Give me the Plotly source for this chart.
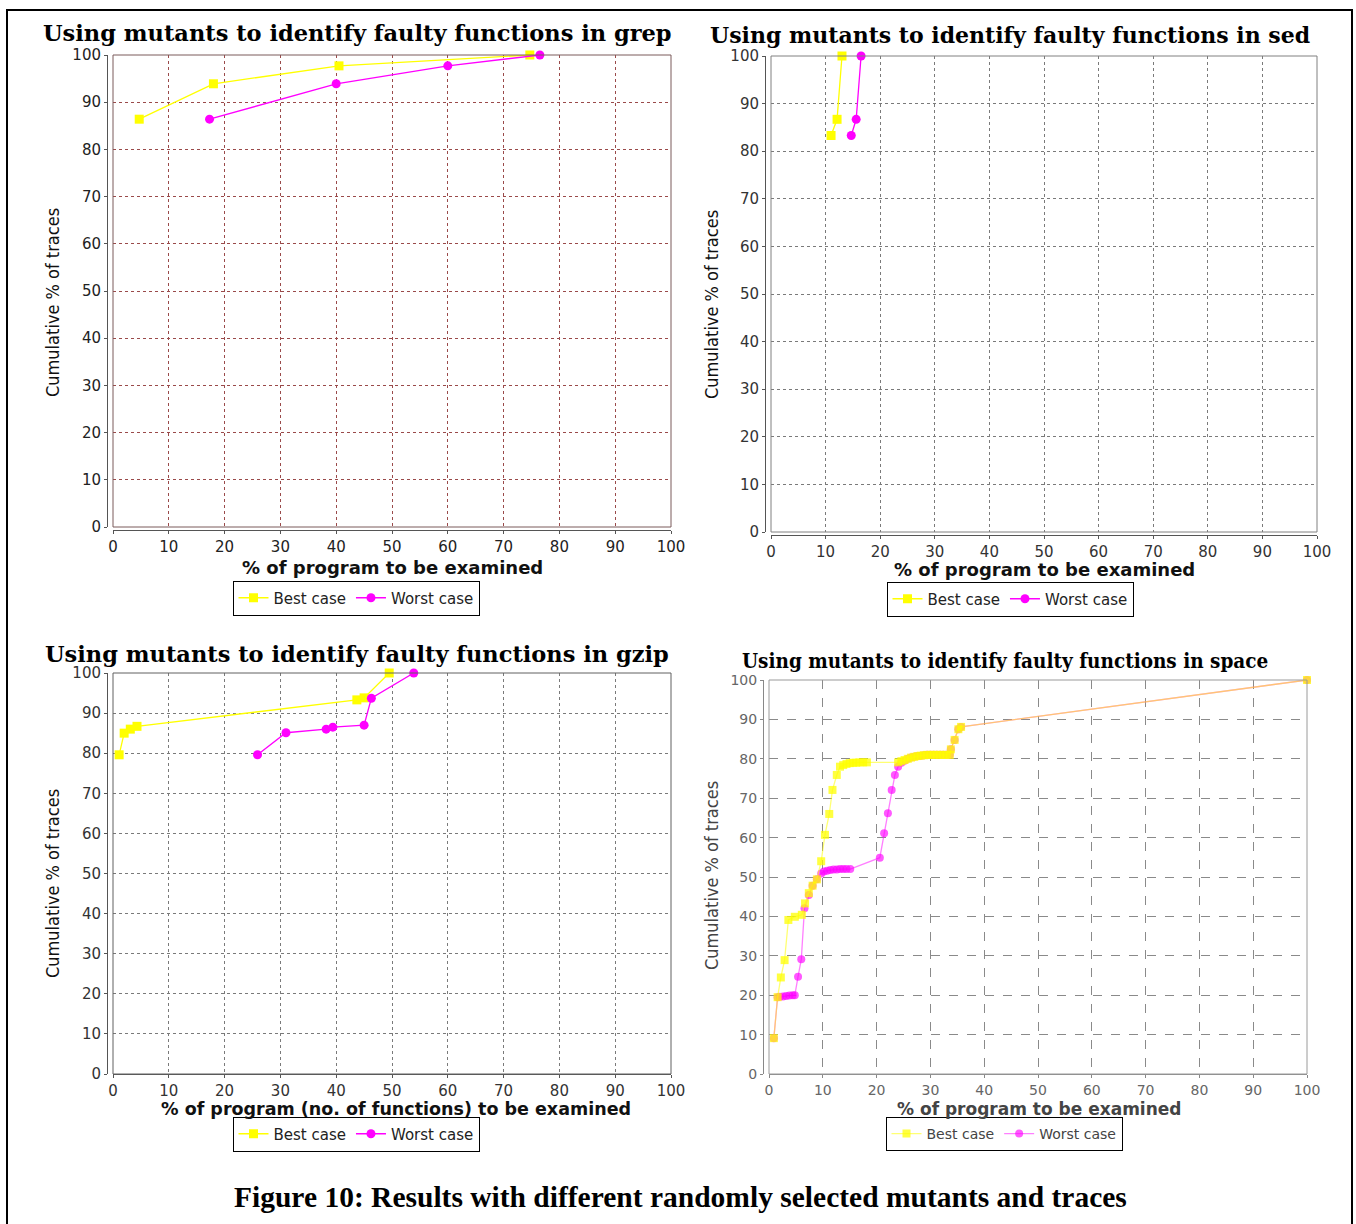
import plotly.graph_objects as go

W, H = 1356, 1224

# ---------------- data ----------------
grep_best_x = [4.7, 18.0, 40.5, 74.7]
grep_best_y = [86.4, 93.9, 97.7, 100]
grep_worst_x = [17.3, 40.0, 60.0, 76.5]
grep_worst_y = [86.4, 93.9, 97.7, 100]

sed_best_x = [11.0, 12.1, 13.0]
sed_best_y = [83.3, 86.7, 100]
sed_worst_x = [14.7, 15.6, 16.5]
sed_worst_y = [83.3, 86.7, 100]

gzip_best_x = [1.1, 2.0, 3.1, 4.3, 43.7, 45.0, 49.5]
gzip_best_y = [79.6, 85.0, 86.0, 86.7, 93.3, 93.8, 100]
gzip_worst_x = [25.9, 31.0, 38.2, 39.4, 45.0, 46.3, 53.9]
gzip_worst_y = [79.6, 85.1, 86.0, 86.5, 87.0, 93.7, 100]

space_best_x = [0.9, 1.6, 2.2, 2.9, 3.6, 4.8, 6.1, 6.7, 7.4, 8.1, 8.9, 9.7, 10.4, 11.2,
                11.8, 12.6, 13.2, 13.8, 14.4, 15.0, 15.6, 16.2, 16.8, 17.5, 18.2,
                24.0, 24.6, 25.2, 25.8, 26.4, 27.0, 27.6, 28.2, 28.8, 29.4, 30.0, 30.6,
                31.2, 31.8, 32.4, 33.0, 33.6, 33.8, 34.5, 35.2, 35.7, 100]
space_best_y = [9.1, 19.5, 24.5, 28.9, 39.1, 39.9, 40.4, 43.3, 45.9, 47.8, 49.4, 54.0, 60.7, 66.0,
                72.1, 75.9, 78.0, 78.4, 78.7, 78.9, 79.0, 79.0, 79.1, 79.1, 79.1,
                79.1, 79.4, 79.7, 80.0, 80.3, 80.5, 80.7, 80.8, 80.9, 81.0, 81.0, 81.0,
                81.0, 81.0, 81.0, 81.0, 81.0, 82.4, 84.8, 87.5, 88.1, 100]
space_worst_x = [0.9, 1.6, 2.0, 2.6, 3.2, 3.8, 4.4, 4.8, 5.4, 6.0, 6.6, 7.4, 8.1, 8.9, 9.7,
                 10.2, 10.8, 11.4, 12.0, 12.6, 13.2, 13.8, 14.4, 15.1,
                 20.6, 21.4, 22.1, 22.8, 23.4, 24.0, 24.6, 25.2, 25.8, 26.4, 27.0, 27.6,
                 28.2, 28.8, 29.4, 30.0, 30.6, 31.2, 31.8, 32.4, 33.0, 33.6, 33.8, 34.5,
                 35.2, 35.7, 100]
space_worst_y = [9.1, 19.5, 19.6, 19.7, 19.8, 19.9, 20.0, 20.0, 24.7, 29.1, 42.1, 45.4, 47.8, 49.4, 50.9,
                 51.4, 51.6, 51.8, 51.9, 51.9, 52.0, 52.0, 52.0, 52.0,
                 54.9, 61.1, 66.2, 72.1, 75.9, 78.0, 79.0, 79.5, 80.0, 80.3, 80.5, 80.7,
                 80.8, 80.9, 81.0, 81.0, 81.0, 81.0, 81.0, 81.0, 81.0, 81.0, 82.4, 84.8,
                 87.5, 88.1, 100]

tick_vals = [0, 10, 20, 30, 40, 50, 60, 70, 80, 90, 100]

titles = ["Using mutants to identify faulty functions in grep",
          "Using mutants to identify faulty functions in sed",
          "Using mutants to identify faulty functions in gzip",
          "Using mutants to identify faulty functions in space"]
xtitles = ["% of program to be examined", "% of program to be examined",
           "% of program (no. of functions) to be examined", "% of program to be examined"]
ytitle = "Cumulative % of traces"
caption = "Figure 10: Results with different randomly selected mutants and traces"
series_names = ["Best case", "Worst case"]

# ---------------- layout helpers (reference-pixel -> paper) ----------------
def px(x):
    return x / W

def py(y):
    return 1 - y / H

# plot-area pixel boxes: (left, right, top, bottom)
boxes = [(113, 671, 55, 527), (771, 1317, 56, 532), (113, 671, 673, 1074), (769, 1307, 680, 1074)]
xaxis_gap = [3, 3, 0, 0]
gridcols = ["#9a4a4a", "#7a7a7a", "#7a7a7a", "#8a8a8a"]
framecols = ["#7a5a5a", "#808080", "#606060", "#9a9a9a"]
axiscols = ["#555555", "#555555", "#555555", "#888888"]
tickcols = ["#222222", "#333333", "#333333", "#666666"]

fig = go.Figure()

layout = dict(width=W, height=H, margin=dict(l=0, r=0, t=0, b=0, pad=0, autoexpand=False),
              paper_bgcolor="white", plot_bgcolor="white", showlegend=True)

for i, (l, r, t, b) in enumerate(boxes):
    k = "" if i == 0 else str(i + 1)
    common = dict(range=[0, 100], tickvals=tick_vals, showgrid=True, gridcolor=gridcols[i],
                  griddash="dot" if i < 3 else "dash", gridwidth=1, showline=True,
                  linecolor=axiscols[i], linewidth=1, ticks="outside", ticklen=3,
                  tickcolor=axiscols[i], zeroline=False, fixedrange=True, automargin=False,
                  tickfont=dict(family="DejaVu Sans", size=15 if i < 3 else 14, color=tickcols[i]))
    layout["xaxis" + k] = dict(domain=[px(l), px(r)], anchor="free",
                               position=py(b + xaxis_gap[i]), **common)
    layout["yaxis" + k] = dict(domain=[py(b), py(t)], anchor="free", position=px(l - 6), **common)

fig.update_layout(**layout)

data = [(grep_best_x, grep_best_y, grep_worst_x, grep_worst_y),
        (sed_best_x, sed_best_y, sed_worst_x, sed_worst_y),
        (gzip_best_x, gzip_best_y, gzip_worst_x, gzip_worst_y),
        (space_best_x, space_best_y, space_worst_x, space_worst_y)]

for i, (bx, by, wx, wy) in enumerate(data):
    k = "" if i == 0 else str(i + 1)
    leg = "legend" + k
    if i < 3:
        ycol_l, mcol_l, ycol_m, mcol_m, msz = "#ffff00", "#ff00ff", "#ffff00", "#ff00ff", 9
    else:
        ycol_l, mcol_l = "rgba(255,255,0,0.55)", "rgba(255,0,255,0.5)"
        ycol_m, mcol_m, msz = "rgba(255,255,0,0.75)", "rgba(255,0,255,0.65)", 8
    worst = go.Scatter(x=wx, y=wy, mode="lines+markers", name=series_names[1],
                       line=dict(color=mcol_l, width=1.3),
                       marker=dict(symbol="circle", size=msz, color=mcol_m),
                       xaxis="x" + k, yaxis="y" + k, legend=leg, cliponaxis=False,
                       legendrank=2)
    best = go.Scatter(x=bx, y=by, mode="lines+markers", name=series_names[0],
                      line=dict(color=ycol_l, width=1.3),
                      marker=dict(symbol="square", size=msz, color=ycol_m),
                      xaxis="x" + k, yaxis="y" + k, legend=leg, cliponaxis=False,
                      legendrank=1)
    if i == 3:
        fig.add_trace(worst)
        fig.add_trace(best)
    else:
        fig.add_trace(best)
        fig.add_trace(worst)
    # plot frame
    fig.add_shape(type="rect", xref="x" + k + " domain", yref="y" + k + " domain",
                  x0=0, x1=1, y0=0, y1=1, line=dict(color=framecols[i], width=1),
                  fillcolor="rgba(0,0,0,0)", layer="above")

# legends
legend_pos = [(356, 598), (1010, 599), (356, 1134), (1004, 1134)]
for i, (lx, ly) in enumerate(legend_pos):
    k = "" if i == 0 else str(i + 1)
    fig.update_layout(**{"legend" + k: dict(
        x=px(lx), y=py(ly), xanchor="center", yanchor="middle", orientation="h",
        bordercolor="black", borderwidth=1, bgcolor="white",
        font=dict(family="DejaVu Sans", size=15 if i < 3 else 14,
                  color="#222222" if i < 3 else "#444444"),
        itemwidth=30, tracegroupgap=0, traceorder="normal")})

ann = []
title_pos = [(357, 33), (1010, 35), (357, 654), (1005, 661)]
for i, (tx, ty) in enumerate(title_pos):
    fam = "DejaVu Serif" if i < 3 else "DejaVu Serif Condensed"
    ann.append(dict(text="<b>" + titles[i] + "</b>", x=px(tx), y=py(ty), xref="paper", yref="paper",
                    xanchor="center", yanchor="middle", showarrow=False,
                    font=dict(family=fam, size=22.5 if i != 1 else 22 if i < 3 else 20.5,
                              color="black") if i < 3 else
                    dict(family=fam, size=20.5, color="black")))
xt_pos = [(392, 567), (1044, 569), (396, 1109), (1039, 1109)]
xt_size = [18, 18, 17.5, 17]
for i, (tx, ty) in enumerate(xt_pos):
    ann.append(dict(text="<b>" + xtitles[i] + "</b>", x=px(tx), y=py(ty), xref="paper", yref="paper",
                    xanchor="center", yanchor="middle", showarrow=False,
                    font=dict(family="DejaVu Sans", size=xt_size[i],
                              color="#111111" if i < 3 else "#444444")))
yt_pos = [(52, 303), (711, 305), (52, 884), (711, 876)]
for i, (tx, ty) in enumerate(yt_pos):
    ann.append(dict(text=ytitle, x=px(tx), y=py(ty), xref="paper", yref="paper",
                    xanchor="center", yanchor="middle", showarrow=False, textangle=-90,
                    font=dict(family="DejaVu Sans Condensed", size=18,
                              color="#111111" if i < 3 else "#444444")))
ann.append(dict(text="<b>" + caption + "</b>", x=px(681), y=py(1197), xref="paper", yref="paper",
                xanchor="center", yanchor="middle", showarrow=False,
                font=dict(family="Liberation Serif", size=29.5, color="black")))
fig.update_layout(annotations=ann)

# outer frame of the figure
fig.add_shape(type="rect", xref="paper", yref="paper", x0=px(7), x1=px(1352), y0=-0.02, y1=py(10),
              line=dict(color="black", width=2), fillcolor="rgba(0,0,0,0)", layer="above")

# remove the page's default body margin so the figure fills the window exactly
fig.write_html("out.html", config={"displayModeBar": False},
               post_script="document.body.style.margin='0';"
                           "document.documentElement.style.overflow='hidden';")
